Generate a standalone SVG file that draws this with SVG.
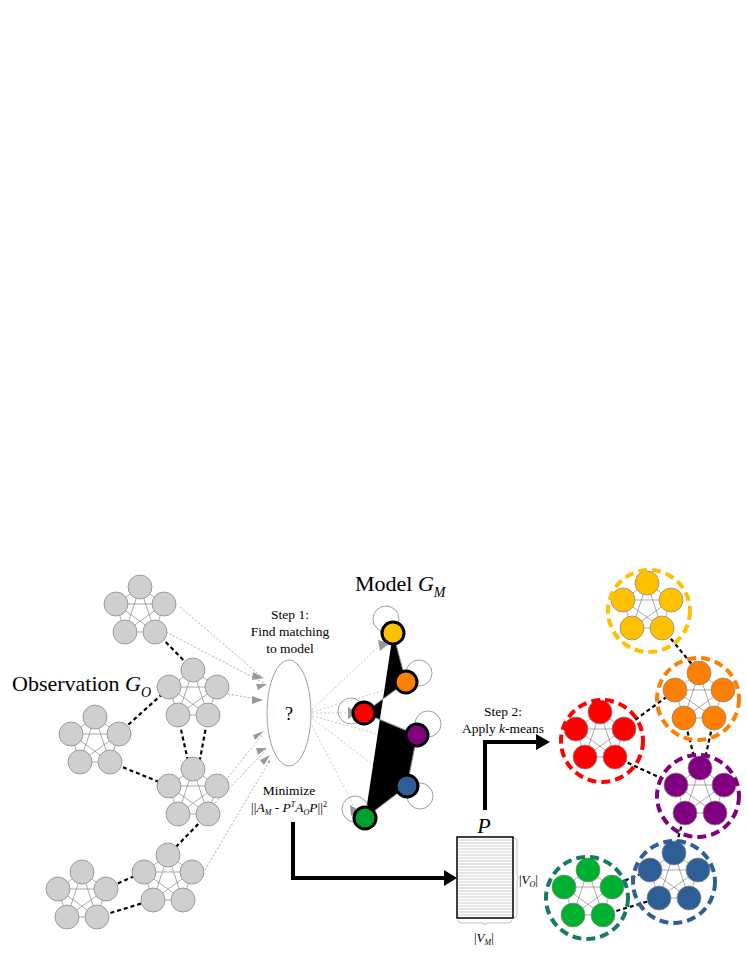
<svg xmlns="http://www.w3.org/2000/svg" xmlns:xlink="http://www.w3.org/1999/xlink" width="747" height="967" viewBox="0 0 747 967">
<style>
text{font-family:"Liberation Serif","Times New Roman",serif;fill:#000}
.e{stroke:#888;stroke-width:0.7;fill:none}
.gn{fill:#cfcfcf;stroke:#8a8a8a;stroke-width:0.8}
.dk{stroke:#000;stroke-width:2.2;stroke-dasharray:4,3;fill:none}
.dt{stroke:#bbb;stroke-width:0.8;stroke-dasharray:2,2;fill:none}
.ring{fill:none;stroke-width:4;stroke-dasharray:9,5}
.mn{stroke:#000;stroke-width:3}
.loop{fill:none;stroke:#888;stroke-width:0.8}
.big{stroke:#000;stroke-width:4;fill:none}
</style>
<defs>
<g id="k5">
<path class="e" d="M0-25L-24-8L-15 20L15 20L24-8Z M0-25L-15 20 M0-25L15 20 M-24-8L24-8 M-24-8L15 20 M24-8L-15 20"/>
</g>
<g id="cl">
<use xlink:href="#k5"/>
<circle cx="0" cy="-25" r="12"/><circle cx="-24" cy="-8" r="12"/><circle cx="24" cy="-8" r="12"/><circle cx="-15" cy="20" r="12"/><circle cx="15" cy="20" r="12"/>
</g>
<marker id="ga" viewBox="0 0 10 10" refX="10" refY="5" markerWidth="4" markerHeight="4" orient="auto" markerUnits="strokeWidth"><path d="M0 0L10 5L0 10Z" fill="#999"/></marker>
<marker id="ba" viewBox="0 0 10 10" refX="8" refY="5" markerWidth="4" markerHeight="4" orient="auto" markerUnits="strokeWidth"><path d="M0 0L10 5L0 10Z" fill="#000"/></marker>
</defs>

<g id="connectors">
<path class="dt" marker-end="url(#ga)" stroke-width="1" d="M180 607L262 677 M166 632L264 683 M228 694L262 700 M218 790L262 735 M215 803L266 750 M205 870L270 760"/>
<g stroke="#999" fill="none"><path d="M180 607L262 677 M166 632L264 683 M228 694L262 700 M218 790L262 735 M215 803L266 750 M205 870L270 760" class="dt" stroke-width="0.8"/></g>
<path class="dt" d="M312 710L380 645 M312 712L392 688 M312 713L352 713 M312 716L400 740 M312 718L393 780 M310 722L355 808"/>
<path fill="#999" d="M378 640l12 3-10 8z M388 683l12 0-9 8z M348 707l10 6-10 6z M392 776l12 6-12 4z M350 805l10 6-9 5z"/>
<path d="M253 672l11 6-12 2z M252 696l11 4-11 4z M253 735l11-4-9 9z M256 748l11 0-9 7z M260 760l10-5-6 10z M256 684l11 0-9 6z" fill="#999"/>
<path class="dk" d="M156 632L193 670 M118 734L169 688 M178 716L190 770 M208 716L198 770 M110 762L169 786 M208 814L168 855 M105 889L144 872 M97 917L153 900"/>
<path class="dk" d="M662 628L699 673 M624 728L676 690 M684 718L697 768 M714 718L703 768 M615 757L676 785 M685 813L674 853 M612 886L650 870 M603 915L659 898"/>
<path stroke="#888" stroke-width="1" d="M393 633L406 682L364 713L417 735L407 786L365 818"/>
<circle class="loop" cx="386" cy="619" r="13"/>
<circle class="loop" cx="419" cy="673" r="13"/>
<circle class="loop" cx="351" cy="711" r="13"/>
<circle class="loop" cx="428" cy="724" r="13"/>
<circle class="loop" cx="420" cy="796" r="13"/>
<circle class="loop" cx="355" cy="809" r="13"/>
<path class="big" d="M293 822V878H446"/>
<path d="M444 870L457 878L444 886Z"/>
<path class="big" d="M485 810V742H538"/>
<path d="M536 734L550 742L536 750Z"/>
</g>

<g id="observation" class="gn">
<use xlink:href="#cl" x="140" y="612"/>
<use xlink:href="#cl" x="193" y="695"/>
<use xlink:href="#cl" x="95" y="742"/>
<use xlink:href="#cl" x="193" y="794"/>
<use xlink:href="#cl" x="168" y="880"/>
<use xlink:href="#cl" x="82" y="897"/>
</g>
<text x="12" y="691" font-size="22">Observation <tspan font-style="italic">G</tspan><tspan font-size="14" dy="6" font-style="italic">O</tspan></text>

<g id="matcher">
<ellipse cx="289" cy="713" rx="22" ry="53" fill="#fff" stroke="#888" stroke-width="0.8"/>
<text x="289" y="720" font-size="18" text-anchor="middle">?</text>
<text x="290" y="619" font-size="13.5" text-anchor="middle">Step 1:</text>
<text x="290" y="636" font-size="13.5" text-anchor="middle">Find matching</text>
<text x="290" y="653" font-size="13.5" text-anchor="middle">to model</text>
<text x="289" y="795" font-size="13.5" text-anchor="middle">Minimize</text>
<text x="289" y="812" font-size="13.5" text-anchor="middle">||<tspan font-style="italic">A</tspan><tspan font-size="8" dy="3" font-style="italic">M</tspan><tspan dy="-3"> - </tspan><tspan font-style="italic">P</tspan><tspan font-size="8" dy="-5" font-style="italic">T</tspan><tspan dy="5" font-style="italic">A</tspan><tspan font-size="8" dy="3" font-style="italic">O</tspan><tspan dy="-3" font-style="italic">P</tspan>||<tspan font-size="8" dy="-5">2</tspan></text>
</g>

<g id="model">
<text x="355" y="591" font-size="22">Model <tspan font-style="italic">G</tspan><tspan font-size="14" dy="6" font-style="italic">M</tspan></text>
<circle class="mn" cx="393" cy="633" r="11" fill="#FFC000"/>
<circle class="mn" cx="406" cy="682" r="11" fill="#FF8000"/>
<circle class="mn" cx="364" cy="713" r="11" fill="#FF0000"/>
<circle class="mn" cx="417" cy="735" r="11" fill="#800080"/>
<circle class="mn" cx="407" cy="786" r="11" fill="#2E5E96"/>
<circle class="mn" cx="365" cy="818" r="11" fill="#00A030"/>
</g>

<g id="matrix">
<text x="484" y="833" font-size="22" font-style="italic" text-anchor="middle">P</text>
<rect x="457" y="837" width="56" height="81" fill="#fff" stroke="#000" stroke-width="1.5"/>
<path stroke="#999" stroke-width="0.5" d="M458 840H512M458 843H512M458 846H512M458 849H512M458 852H512M458 855H512M458 858H512M458 861H512M458 864H512M458 867H512M458 870H512M458 873H512M458 876H512M458 879H512M458 882H512M458 885H512M458 888H512M458 891H512M458 894H512M458 897H512M458 900H512M458 903H512M458 906H512M458 909H512M458 912H512M458 915H512"/>
<path fill="none" stroke="#aaa" stroke-width="0.7" d="M514 838q3 0 3 4v32q0 4 2 4q-2 0-2 4v32q0 4-3 4 M458 920q0 3 4 3h20q3 0 3 2q0-2 3-2h20q4 0 4-3"/>
<text x="519" y="884" font-size="13">|<tspan font-style="italic">V</tspan><tspan font-size="8" dy="3" font-style="italic">O</tspan><tspan dy="-3">|</tspan></text>
<text x="474" y="942" font-size="13">|<tspan font-style="italic">V</tspan><tspan font-size="8" dy="3" font-style="italic">M</tspan><tspan dy="-3">|</tspan></text>
</g>

<g id="step2">
<text x="503" y="716" font-size="13.5" text-anchor="middle">Step 2:</text>
<text x="503" y="733" font-size="13.5" text-anchor="middle">Apply <tspan font-style="italic">k</tspan>-means</text>
</g>

<g id="clusters" stroke="#8a8a8a" stroke-width="0.8">
<use xlink:href="#cl" x="647" y="608" fill="#FFC000"/>
<circle class="ring" cx="649" cy="611" r="41" stroke="#FFC000"/>
<use xlink:href="#cl" x="699" y="698" fill="#FF8000"/>
<circle class="ring" cx="698" cy="699" r="41" stroke="#FF8000"/>
<use xlink:href="#cl" x="600" y="737" fill="#FF0000"/>
<circle class="ring" cx="602" cy="741" r="41" stroke="#FF0000"/>
<use xlink:href="#cl" x="700" y="793" fill="#800080"/>
<circle class="ring" cx="698" cy="796" r="41" stroke="#800080"/>
<use xlink:href="#cl" x="674" y="878" fill="#2E5E96"/>
<circle class="ring" cx="674" cy="882" r="41" stroke="#2E5E96"/>
<use xlink:href="#cl" x="588" y="895" fill="#00B030"/>
<circle class="ring" cx="587" cy="898" r="41" stroke="#1A7A5E"/>
</g>
</svg>
